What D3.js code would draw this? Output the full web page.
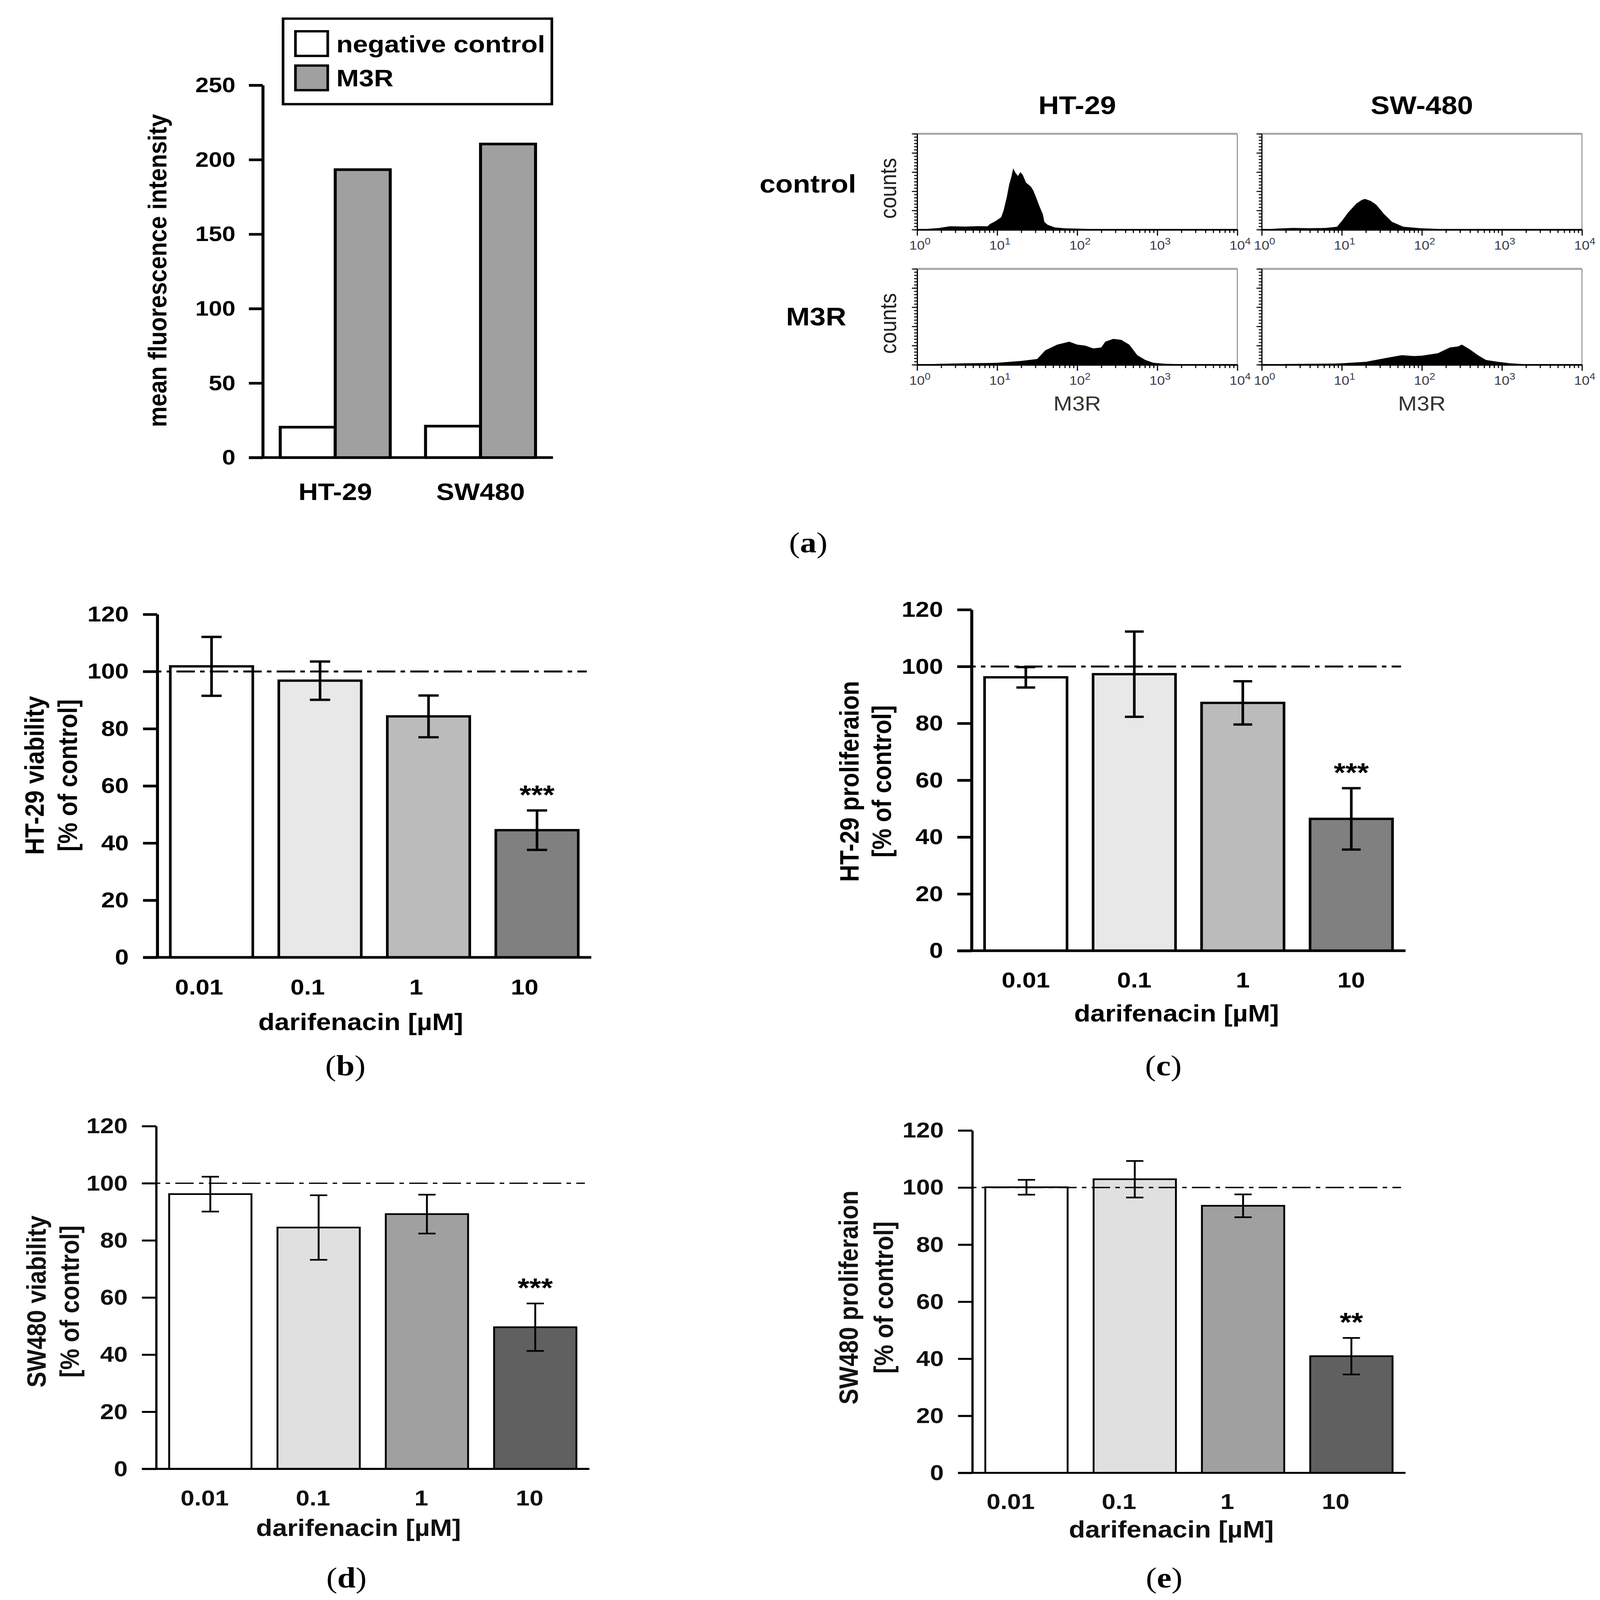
<!DOCTYPE html>
<html>
<head>
<meta charset="utf-8">
<script src="https://cdn.jsdelivr.net/npm/d3@7"></script>
<style>
  html, body { margin: 0; padding: 0; background: #fff; overflow: hidden; }
  svg { display: block; width: 100vw; height: 100vh; }
  text { font-family: "Liberation Sans", Arial, sans-serif; }
</style>
</head>
<body>
<script>
// ---- panel (a): mean fluorescence intensity ----
var cellLines = ["HT-29", "SW480"];
var negControl = [20.4, 21.1];
var m3r = [193.3, 210.5];
var mfiTicks = [0, 50, 100, 150, 200, 250];
var legendLabels = ["negative control", "M3R"];

// ---- flow cytometry histograms: [log10 decade, counts % of frame] ----
var histCols = ["HT-29", "SW-480"];
var histRows = ["control", "M3R"];
var decades = [1, 10, 100, 1000, 10000];
var ht29Control = [[0,0],[0.27,1.7],[0.41,3.5],[0.6,3.2],[0.75,3.6],[0.88,3.5],[0.91,5.8],[0.96,8],[1.0,10],[1.05,13],
  [1.08,20],[1.12,34],[1.15,47],[1.18,56],[1.2,64],[1.23,59],[1.26,56],[1.29,60],[1.32,57],[1.36,49],[1.42,45],
  [1.45,41],[1.48,35],[1.53,24],[1.57,16],[1.59,8],[1.63,5],[1.72,2.3],[1.85,1.4],[2.0,1],[2.22,0.6],[2.6,0.2],[4,0]];
var sw480Control = [[0,0],[0.2,1.2],[0.4,1.8],[0.6,1.5],[0.8,1.8],[0.94,3],[1.0,9],[1.08,18],[1.18,27],[1.25,31],
  [1.29,32],[1.36,30],[1.43,26],[1.53,16],[1.63,8],[1.77,3],[1.98,1.5],[2.26,0.5],[2.6,0.2],[4,0]];
var ht29M3R = [[0,0],[0.3,1],[0.6,1.5],[0.9,1.8],[1.0,2],[1.3,4],[1.5,6],[1.6,15],[1.75,21],[1.9,24],[2.0,21],
  [2.1,20],[2.2,17],[2.3,18],[2.35,24],[2.45,27],[2.55,26],[2.65,21],[2.75,10],[2.85,5],[2.95,2],[3.1,1],[3.3,0.5],[4,0]];
var sw480M3R = [[0,0],[0.3,0.8],[0.6,1],[0.9,1.2],[1.0,1.5],[1.3,3],[1.55,7],[1.75,10],[1.9,9],[2.0,9.5],[2.2,12],
  [2.35,18],[2.45,19],[2.5,21],[2.6,16],[2.7,10],[2.8,5],[2.95,3],[3.1,1.5],[3.3,0.5],[4,0]];
var histData = [[ht29Control, sw480Control], [ht29M3R, sw480M3R]];

// ---- panels (b)-(e): darifenacin dose response ----
var doses = ["0.01", "0.1", "1", "10"];
var ht29Viability = [101.8, 96.8, 84.3, 44.5];
var ht29ViabilitySd = [10.3, 6.7, 7.3, 6.9];
var ht29Prolif = [96.2, 97.3, 87.2, 46.4];
var ht29ProlifSd = [3.6, 15.0, 7.6, 10.8];
var sw480Viability = [96.2, 84.5, 89.2, 49.6];
var sw480ViabilitySd = [6.1, 11.3, 6.8, 8.3];
var sw480Prolif = [100.1, 102.9, 93.6, 40.9];
var sw480ProlifSd = [2.6, 6.4, 4.0, 6.4];
var ht29Sig = ["", "", "", "***"];
var ht29ProlifSig = ["", "", "", "***"];
var sw480Sig = ["", "", "", "***"];
var sw480ProlifSig = ["", "", "", "**"];
var pctTicks = [0, 20, 40, 60, 80, 100, 120];

var W = 4262, H = 4808;
var svg = d3.select("body").append("svg")
  .attr("viewBox", "0 0 " + W + " " + H)
  .attr("preserveAspectRatio", "none");
svg.append("rect").attr("width", W).attr("height", H).attr("fill", "#fff");

function tag(x, y, letter) {
  var t = svg.append("text").attr("x", x).attr("y", y).attr("text-anchor", "middle")
    .style("font-family", "'Liberation Serif', 'Times New Roman', serif").style("font-size", "88px");
  t.append("tspan").text("(");
  t.append("tspan").attr("font-weight", "bold").text(letter);
  t.append("tspan").text(")");
}

// ================= panel (a) =================
(function () {
  var ya = d3.scaleLinear().domain([0, 250]).range([1375, 256]);
  var xa = d3.scaleBand().domain(cellLines).range([700, 1473]).paddingInner(0.243).paddingOuter(0.12);
  var xs = d3.scaleBand().domain(["neg", "m3r"]).range([0, xa.bandwidth()]);
  var g = svg.append("g");

  var groups = g.selectAll("g.grp").data(cellLines).enter().append("g")
    .attr("transform", function (d) { return "translate(" + xa(d) + ",0)"; });
  groups.append("rect")
    .attr("x", xs("neg")).attr("width", xs.bandwidth())
    .attr("y", function (d, i) { return ya(negControl[i]); })
    .attr("height", function (d, i) { return ya(0) - ya(negControl[i]); })
    .attr("fill", "#fff").attr("stroke", "#000").attr("stroke-width", 8);
  groups.append("rect")
    .attr("x", xs("m3r")).attr("width", xs.bandwidth())
    .attr("y", function (d, i) { return ya(m3r[i]); })
    .attr("height", function (d, i) { return ya(0) - ya(m3r[i]); })
    .attr("fill", "#a0a0a0").attr("stroke", "#000").attr("stroke-width", 8);

  var ax = g.append("g").attr("transform", "translate(700,0)")
    .call(d3.axisLeft(ya).tickValues(mfiTicks).tickSize(37).tickPadding(36).tickSizeOuter(0));
  ax.selectAll("path,line").attr("stroke", "#000").attr("stroke-width", 8);
  ax.selectAll("text").attr("fill", "#000").style("font-size", "64px").style("font-weight", "bold");

  g.append("line").attr("x1", 663).attr("x2", 1473).attr("y1", ya(0)).attr("y2", ya(0))
    .attr("stroke", "#000").attr("stroke-width", 8);

  g.selectAll("text.xl").data(cellLines).enter().append("text")
    .attr("x", function (d) { return xa(d) + xa.bandwidth() / 2; }).attr("y", 1503)
    .attr("text-anchor", "middle").style("font-size", "72px").style("font-weight", "bold")
    .text(function (d) { return d; });

  g.append("text").attr("transform", "translate(419,813) rotate(-90)").attr("dy", "0.35em")
    .attr("text-anchor", "middle").style("font-size", "70px").style("font-weight", "bold")
    .text("mean fluorescence intensity");

  // legend
  g.append("rect").attr("x", 754).attr("y", 56).attr("width", 716).attr("height", 257)
    .attr("fill", "#fff").attr("stroke", "#000").attr("stroke-width", 7);
  var swFill = ["#fff", "#a0a0a0"];
  var leg = g.selectAll("g.leg").data(legendLabels).enter().append("g")
    .attr("transform", function (d, i) { return "translate(0," + (i * 103) + ")"; });
  leg.append("rect").attr("x", 787).attr("y", 94).attr("width", 86).attr("height", 74)
    .attr("fill", function (d, i) { return swFill[i]; }).attr("stroke", "#000").attr("stroke-width", 7);
  leg.append("text").attr("x", 896).attr("y", 157).style("font-size", "72px").style("font-weight", "bold")
    .text(function (d) { return d; });
})();

// ================= flow histograms =================
(function () {
  var boxW = 853, boxH = 288;
  var colX = [2443, 3361], rowY = [402, 808];
  var hx = d3.scaleLog().domain([1, 10000]).range([0, boxW]);
  var hy = d3.scaleLinear().domain([0, 100]).range([boxH, 0]);
  var area = d3.area()
    .x(function (d) { return hx(Math.pow(10, d[0])); })
    .y0(hy(0))
    .y1(function (d) { return hy(d[1]); });
  var minor = [];
  decades.slice(0, 4).forEach(function (d) { d3.range(2, 10).forEach(function (m) { minor.push(d * m); }); });

  histRows.forEach(function (row, r) {
    histCols.forEach(function (col, c) {
      var g = svg.append("g").attr("transform", "translate(" + colX[c] + "," + rowY[r] + ")");
      g.append("path").datum(histData[r][c]).attr("d", area).attr("fill", "#000");
      g.append("line").attr("x1", 0).attr("x2", boxW).attr("y1", 0).attr("y2", 0)
        .attr("stroke", "#a8a8a8").attr("stroke-width", 6);
      g.append("line").attr("x1", boxW).attr("x2", boxW).attr("y1", 0).attr("y2", boxH)
        .attr("stroke", "#9a9a9a").attr("stroke-width", 3);

      var la = g.append("g").call(d3.axisLeft(hy).tickValues(d3.range(0, 100.1, 10 / 3)).tickSize(8).tickFormat("").tickSizeOuter(0));
      var lb = g.append("g").call(d3.axisLeft(hy).tickValues([0, 20, 40, 60, 80, 100]).tickSize(14).tickFormat("").tickSizeOuter(0));
      la.selectAll("path,line").attr("stroke", "#000").attr("stroke-width", 3);
      lb.selectAll("path,line").attr("stroke", "#000").attr("stroke-width", 3);

      var ba = g.append("g").attr("transform", "translate(0," + boxH + ")")
        .call(d3.axisBottom(hx).tickValues(minor).tickSize(10).tickFormat("").tickSizeOuter(0));
      var bb = g.append("g").attr("transform", "translate(0," + boxH + ")")
        .call(d3.axisBottom(hx).tickValues(decades).tickSize(18).tickFormat("").tickSizeOuter(0));
      ba.selectAll("path").attr("stroke", "#000").attr("stroke-width", 5);
      ba.selectAll("line").attr("stroke", "#000").attr("stroke-width", 3);
      bb.selectAll("path").attr("stroke", "none");
      bb.selectAll("line").attr("stroke", "#000").attr("stroke-width", 3);

      var lab = g.selectAll("text.dec").data(decades).enter().append("text")
        .attr("x", function (d) { return hx(d) - 21; }).attr("y", boxH + 60)
        .attr("fill", "#3a3a4a").style("font-size", "37px");
      lab.append("tspan").text("10");
      lab.append("tspan").attr("dy", -15).style("font-size", "28px")
        .text(function (d) { return Math.round(Math.log10(d)); });

      if (c === 0) {
        svg.append("text")
          .attr("transform", "translate(2365," + (rowY[r] + boxH / 2 + 20) + ") rotate(-90)")
          .attr("dy", "0.35em").attr("text-anchor", "middle").attr("fill", "#222")
          .style("font-size", "62px").text("counts");
      }
      if (r === 1) {
        svg.append("text").attr("x", colX[c] + boxW / 2).attr("y", 1234).attr("text-anchor", "middle")
          .attr("fill", "#333").style("font-size", "60px").text("M3R");
      }
    });
  });

  svg.selectAll("text.colt").data(histCols).enter().append("text")
    .attr("x", function (d, i) { return colX[i] + boxW / 2; }).attr("y", 343)
    .attr("text-anchor", "middle").style("font-size", "76px").style("font-weight", "bold")
    .text(function (d) { return d; });
  var rowLabX = [2152, 2174], rowLabY = [579, 978];
  svg.selectAll("text.rowt").data(histRows).enter().append("text")
    .attr("x", function (d, i) { return rowLabX[i]; }).attr("y", function (d, i) { return rowLabY[i]; })
    .attr("text-anchor", "middle").style("font-size", "76px").style("font-weight", "bold")
    .text(function (d) { return d; });

  tag(2153, 1660, "a");
})();

// ================= panels (b)-(e) =================
function drawBars(cfg) {
  var y = d3.scaleLinear().domain([0, 120]).range([cfg.y0, cfg.yTop]);
  var x = d3.scaleBand().domain(doses).range([cfg.axisX, cfg.xEnd]).paddingInner(0.24).paddingOuter(0.12);
  var bw = x.bandwidth();
  var g = svg.append("g");

  g.selectAll("rect.bar").data(doses).enter().append("rect")
    .attr("x", function (d) { return x(d); }).attr("width", bw)
    .attr("y", function (d, i) { return y(cfg.means[i]); })
    .attr("height", function (d, i) { return cfg.y0 - y(cfg.means[i]); })
    .attr("fill", function (d, i) { return cfg.fills[i]; })
    .attr("stroke", "#000").attr("stroke-width", cfg.sw);

  g.append("line").attr("x1", cfg.axisX - 38).attr("x2", cfg.xEnd - 12)
    .attr("y1", y(100)).attr("y2", y(100))
    .attr("stroke", "#000").attr("stroke-width", cfg.sw - 1).attr("stroke-dasharray", "49,14,12,14");

  var eb = g.selectAll("g.err").data(doses).enter().append("g");
  eb.append("line")
    .attr("x1", function (d) { return x(d) + bw / 2; }).attr("x2", function (d) { return x(d) + bw / 2; })
    .attr("y1", function (d, i) { return y(cfg.means[i] - cfg.sds[i]); })
    .attr("y2", function (d, i) { return y(cfg.means[i] + cfg.sds[i]); });
  [-1, 1].forEach(function (s) {
    eb.append("line")
      .attr("x1", function (d) { return x(d) + bw / 2 - cfg.cap / 2; })
      .attr("x2", function (d) { return x(d) + bw / 2 + cfg.cap / 2; })
      .attr("y1", function (d, i) { return y(cfg.means[i] + s * cfg.sds[i]); })
      .attr("y2", function (d, i) { return y(cfg.means[i] + s * cfg.sds[i]); });
  });
  eb.selectAll("line").attr("stroke", "#000").attr("stroke-width", cfg.sw);

  g.selectAll("text.sig").data(doses).enter().append("text")
    .attr("x", function (d) { return x(d) + bw / 2; })
    .attr("y", function (d, i) { return y(cfg.means[i] + cfg.sds[i]) - 20; })
    .attr("text-anchor", "middle").style("font-size", "80px").style("font-weight", "bold")
    .text(function (d, i) { return cfg.sig[i]; });

  var ax = g.append("g").attr("transform", "translate(" + cfg.axisX + ",0)")
    .call(d3.axisLeft(y).tickValues(pctTicks).tickSize(38).tickPadding(38).tickSizeOuter(0));
  ax.selectAll("path,line").attr("stroke", "#000").attr("stroke-width", cfg.sw + 1);
  ax.selectAll("text").attr("fill", cfg.ink).style("font-size", "66px").style("font-weight", "bold");

  g.append("line").attr("x1", cfg.axisX - 38).attr("x2", cfg.xEnd).attr("y1", cfg.y0).attr("y2", cfg.y0)
    .attr("stroke", "#000").attr("stroke-width", cfg.sw + 1);

  g.selectAll("text.xl").data(doses).enter().append("text")
    .attr("x", function (d) { return x(d) + bw / 2 + cfg.labelDx; }).attr("y", cfg.labelY)
    .attr("text-anchor", "middle").attr("fill", cfg.ink)
    .style("font-size", "66px").style("font-weight", "bold").text(function (d) { return d; });

  g.append("text").attr("x", cfg.titleX).attr("y", cfg.titleY).attr("text-anchor", "middle")
    .attr("fill", cfg.ink).style("font-size", "71px").style("font-weight", "bold").text("darifenacin [µM]");

  [cfg.ylab1, cfg.ylab2].forEach(function (t, k) {
    g.append("text").attr("transform", "translate(" + cfg.ylabX[k] + "," + cfg.ylabCY + ") rotate(-90)")
      .attr("dy", "0.35em").attr("text-anchor", "middle").attr("fill", cfg.ink)
      .style("font-size", "71px").style("font-weight", "bold").text(t);
  });

  tag(cfg.tagX, cfg.tagY, cfg.tag);
}

var fillsTop = ["#ffffff", "#e8e8e8", "#bbbbbb", "#808080"];
var fillsBottom = ["#ffffff", "#e0e0e0", "#a0a0a0", "#606060"];

drawBars({ means: ht29Viability, sds: ht29ViabilitySd, sig: ht29Sig, fills: fillsTop, sw: 7, cap: 54, ink: "#000",
  axisX: 419, xEnd: 1575, y0: 2877, yTop: 1846, labelDx: -33, labelY: 2988, titleX: 961, titleY: 3095,
  ylab1: "HT-29 viability", ylab2: "[% of control]", ylabX: [92, 180], ylabCY: 2330, tag: "b", tagX: 920, tagY: 3232 });
drawBars({ means: ht29Prolif, sds: ht29ProlifSd, sig: ht29ProlifSig, fills: fillsTop, sw: 7, cap: 50, ink: "#000",
  axisX: 2588, xEnd: 3744, y0: 2857, yTop: 1832, labelDx: 0, labelY: 2967, titleX: 3134, titleY: 3069,
  ylab1: "HT-29 proliferaion", ylab2: "[% of control]", ylabX: [2262, 2349], ylabCY: 2348, tag: "c", tagX: 3099, tagY: 3232 });
drawBars({ means: sw480Viability, sds: sw480ViabilitySd, sig: sw480Sig, fills: fillsBottom, sw: 5, cap: 46, ink: "#111",
  axisX: 416, xEnd: 1570, y0: 4414, yTop: 3384, labelDx: -15, labelY: 4524, titleX: 955, titleY: 4616,
  ylab1: "SW480 viability", ylab2: "[% of control]", ylabX: [97, 185], ylabCY: 3911, tag: "d", tagX: 923, tagY: 4770 });
drawBars({ means: sw480Prolif, sds: sw480ProlifSd, sig: sw480ProlifSig, fills: fillsBottom, sw: 5, cap: 46, ink: "#111",
  axisX: 2590, xEnd: 3744, y0: 4426, yTop: 3397, labelDx: -42, labelY: 4534, titleX: 3120, titleY: 4620,
  ylab1: "SW480 proliferaion", ylab2: "[% of control]", ylabX: [2260, 2354], ylabCY: 3899, tag: "e", tagX: 3101, tagY: 4770 });
</script>
</body>
</html>
